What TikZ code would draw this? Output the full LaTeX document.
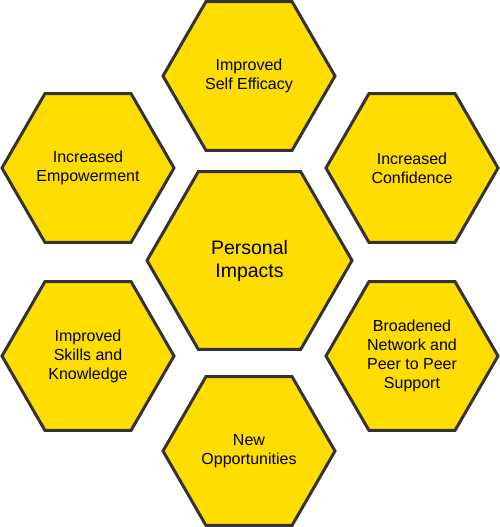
\documentclass[tikz,border=0pt]{standalone}
\usepackage{fontspec}
\setmainfont{Liberation Sans}
\usetikzlibrary{shapes.geometric}
\definecolor{amarelo}{HTML}{FFDD00}
\definecolor{borda}{HTML}{333333}

\begin{document}
\begin{tikzpicture}[x=1pt,y=-1pt,
    hexa/.style={regular polygon, regular polygon sides=6, minimum size=172pt, inner sep=0pt,
        fill=amarelo, draw=borda, line width=3pt, align=center, text=black,
        font=\fontsize{16}{19}\selectfont},
    hexcentro/.style={hexa, minimum size=205pt, font=\fontsize{19.5}{23}\selectfont}]
    \useasboundingbox (0,0) rectangle (500,527);

    % Hexagono central
    \node[hexcentro] (impactos) at (249.5,260.5) {Personal\\Impacts};

    % Hexagonos de cima
    \node[hexa] (eficacia) at (249,76) {Improved\\Self Efficacy};
    \node[hexa] (empoderamento) at (88,168) {Increased\\Empowerment};
    \node[hexa] (confianca) at (412,168) {Increased\\Confidence};

    % Hexagonos de baixo
    \node[hexa] (habilidades) at (88,356) {Improved\\Skills and\\Knowledge};
    \node[hexa] (rede) at (412,356) {Broadened\\Network and\\Peer to Peer\\Support};
    \node[hexa] (oportunidades) at (249,451) {New\\Opportunities};
\end{tikzpicture}
\end{document}
